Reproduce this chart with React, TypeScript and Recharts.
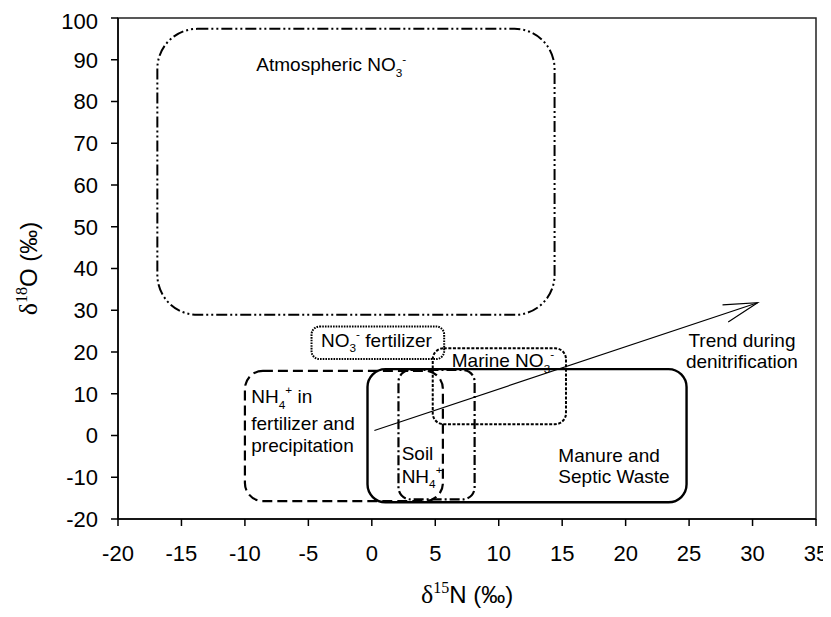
import React from "react";
import { ScatterChart, Scatter, XAxis, YAxis, ReferenceArea, ReferenceLine } from "recharts";

const xTicks = [-20, -15, -10, -5, 0, 5, 10, 15, 20, 25, 30, 35];
const yTicks = [-20, -10, 0, 10, 20, 30, 40, 50, 60, 70, 80, 90, 100];

// source fields (d15N on x, d18O on y)
const sourceNames = ["atmospheric", "no3Fertilizer", "marine", "nh4Fertilizer", "manure", "soil"];
const sourceXMin = [-16.9, -4.75, 4.8, -10, -0.34, 2.1];
const sourceXMax = [14.4, 5.7, 15.3, 5.6, 24.8, 8.1];
const sourceYMin = [28.9, 18.3, 2.7, -15.7, -16, -15.3];
const sourceYMax = [97.4, 26.1, 20.9, 15.5, 15.9, 15.7];

// denitrification trend arrow
const trendFrom = { x: 0.2, y: 1.2 };
const trendTo = { x: 30.4, y: 31.8 };

// text labels, one entry per line: [text, kind] pieces
const labelLines = [
  { x: -9.1, y: 87.2, parts: [["Atmospheric NO", "n"], ["3", "sub"], ["-", "sup"]] },
  { x: -4.0, y: 21.3, parts: [["NO", "n"], ["3", "sub"], ["-", "sup"], [" fertilizer", "n"]] },
  { x: 6.3, y: 16.4, parts: [["Marine NO", "n"], ["3", "sub"], ["-", "sup"]] },
  { x: -9.5, y: 7.8, parts: [["NH", "n"], ["4", "sub"], ["+", "sup"], [" in", "n"]] },
  { x: -9.5, y: 1.3, parts: [["fertilizer and", "n"]] },
  { x: -9.5, y: -3.9, parts: [["precipitation", "n"]] },
  { x: 2.35, y: -5.9, parts: [["Soil", "n"]] },
  { x: 2.35, y: -11.3, parts: [["NH", "n"], ["4", "sub"], ["+", "sup"]] },
  { x: 14.7, y: -6.3, parts: [["Manure and", "n"]] },
  { x: 14.7, y: -11.45, parts: [["Septic Waste", "n"]] },
  { x: 24.95, y: 21.3, parts: [["Trend during", "n"]] },
  { x: 24.75, y: 16.1, parts: [["denitrification", "n"]] },
];

const SANS = "'Liberation Sans', Arial, sans-serif";
const SERIF = "'Liberation Serif', 'Times New Roman', serif";

const boxStyle: Record<string, { dash?: string; width: number; radius: number }> = {
  atmospheric: { dash: "11 3 2 3 2 3", width: 2, radius: 40 },
  no3Fertilizer: { dash: "1.6 1.1", width: 2, radius: 8 },
  marine: { dash: "3 1.6", width: 2, radius: 11 },
  nh4Fertilizer: { dash: "10 5", width: 2.2, radius: 18 },
  manure: { width: 2.4, radius: 18 },
  soil: { dash: "10 3 2 3", width: 2.2, radius: 12 },
};

const sources = sourceNames.map((name, i) => ({
  name,
  x1: sourceXMin[i],
  x2: sourceXMax[i],
  y1: sourceYMin[i],
  y2: sourceYMax[i],
}));

const labelData = labelLines.map((l) => ({ x: l.x, y: l.y, parts: l.parts }));

function RichText({ x, y, parts, size = 19 }: { x: number; y: number; parts: string[][]; size?: number }) {
  let offset = 0;
  return (
    <text x={x} y={y} fontFamily={SANS} fontSize={size} fill="#000" style={{ whiteSpace: "pre" }}>
      {parts.map(([t, kind], i) => {
        const target = kind === "sub" ? size * 0.3 : kind === "sup" ? -size * 0.45 : 0;
        const dy = target - offset;
        offset = target;
        return (
          <tspan key={i} dy={dy} fontSize={kind === "n" ? size : size * 0.62}>
            {t}
          </tspan>
        );
      })}
    </text>
  );
}

function roundedBox(style: { dash?: string; width: number; radius: number }) {
  return (p: any) => {
    const r = Math.min(style.radius, Math.abs(p.width) / 2, Math.abs(p.height) / 2);
    return (
      <rect
        x={p.x}
        y={p.y}
        width={p.width}
        height={p.height}
        rx={r}
        ry={r}
        fill="none"
        stroke="#000"
        strokeWidth={style.width}
        strokeDasharray={style.dash}
      />
    );
  };
}

function TrendArrow(p: any) {
  const { x1, y1, x2, y2 } = p;
  const dx = x2 - x1;
  const dy = y2 - y1;
  const len = Math.sqrt(dx * dx + dy * dy);
  const ux = dx / len;
  const uy = dy / len;
  const back = 34;
  const half = 9;
  const bx = x2 - ux * back;
  const by = y2 - uy * back;
  return (
    <g stroke="#000" fill="none" strokeWidth={1.2}>
      <line x1={x1} y1={y1} x2={x2} y2={y2} />
      <polyline
        points={`${bx - uy * half},${by + ux * half} ${x2},${y2} ${bx + uy * half},${by - ux * half}`}
      />
    </g>
  );
}

function XTitle(props: any) {
  const vb = props.viewBox || {};
  const cx = vb.x + vb.width / 2;
  const y = vb.y + 84;
  return (
    <text x={cx} y={y} textAnchor="middle" fontFamily={SANS} fontSize={24} fill="#000">
      <tspan fontFamily={SERIF} fontSize={26}>δ</tspan>
      <tspan fontFamily={SERIF} fontSize={16} dy={-10}>15</tspan>
      <tspan dy={10}>N (‰)</tspan>
    </text>
  );
}

function YTitle(props: any) {
  const vb = props.viewBox || {};
  const x = vb.x + 29;
  const cy = vb.y + vb.height / 2;
  return (
    <text
      x={x}
      y={cy}
      textAnchor="middle"
      fontFamily={SANS}
      fontSize={24}
      fill="#000"
      transform={`rotate(-90 ${x} ${cy})`}
    >
      <tspan fontFamily={SERIF} fontSize={26}>δ</tspan>
      <tspan fontFamily={SERIF} fontSize={16} dy={-10}>18</tspan>
      <tspan dy={10}>O (‰)</tspan>
    </text>
  );
}

export default function App() {
  return (
    <div style={{ width: 823, height: 601, background: "#fff", overflow: "visible" }}>
      <style>
        {"html,body{overflow:hidden} #root{width:823px} .recharts-wrapper,.recharts-wrapper svg{overflow:visible}"}
      </style>
      <ScatterChart width={823} height={601} margin={{ top: 10, right: 15, bottom: 0, left: 0 }}>
        <XAxis
          type="number"
          dataKey="x"
          domain={[-20, 35]}
          ticks={xTicks}
          allowDataOverflow
          height={90}
          tickSize={7}
          tickMargin={19}
          axisLine={{ stroke: "#000", strokeWidth: 1.5 }}
          tickLine={{ stroke: "#000", strokeWidth: 1.5 }}
          tick={{ fill: "#000", fontSize: 22, fontFamily: SANS }}
          label={(p: any) => <XTitle {...p} />}
        />
        <YAxis
          type="number"
          dataKey="y"
          domain={[-20, 100]}
          ticks={yTicks}
          allowDataOverflow
          width={110}
          tickSize={7}
          tickMargin={13}
          axisLine={{ stroke: "#000", strokeWidth: 1.5 }}
          tickLine={{ stroke: "#000", strokeWidth: 1.5 }}
          tick={{ fill: "#000", fontSize: 22, fontFamily: SANS }}
          label={(p: any) => <YTitle {...p} />}
        />
        <ReferenceArea
          x1={-20}
          x2={35}
          y1={-20}
          y2={100}
          fill="none"
          stroke="#222"
          strokeWidth={1.5}
          fillOpacity={0}
        />
        {sources.map((s) => (
          <ReferenceArea
            key={s.name}
            x1={s.x1}
            x2={s.x2}
            y1={s.y1}
            y2={s.y2}
            shape={roundedBox(boxStyle[s.name])}
          />
        ))}
        <ReferenceLine
          segment={[trendFrom, trendTo]}
          stroke="#000"
          shape={(p: any) => <TrendArrow {...p} />}
        />
        <Scatter
          data={labelData}
          isAnimationActive={false}
          legendType="none"
          shape={(p: any) => {
            const d = p.payload || p;
            return <RichText x={p.cx} y={p.cy} parts={d.parts} />;
          }}
        />
      </ScatterChart>
    </div>
  );
}
